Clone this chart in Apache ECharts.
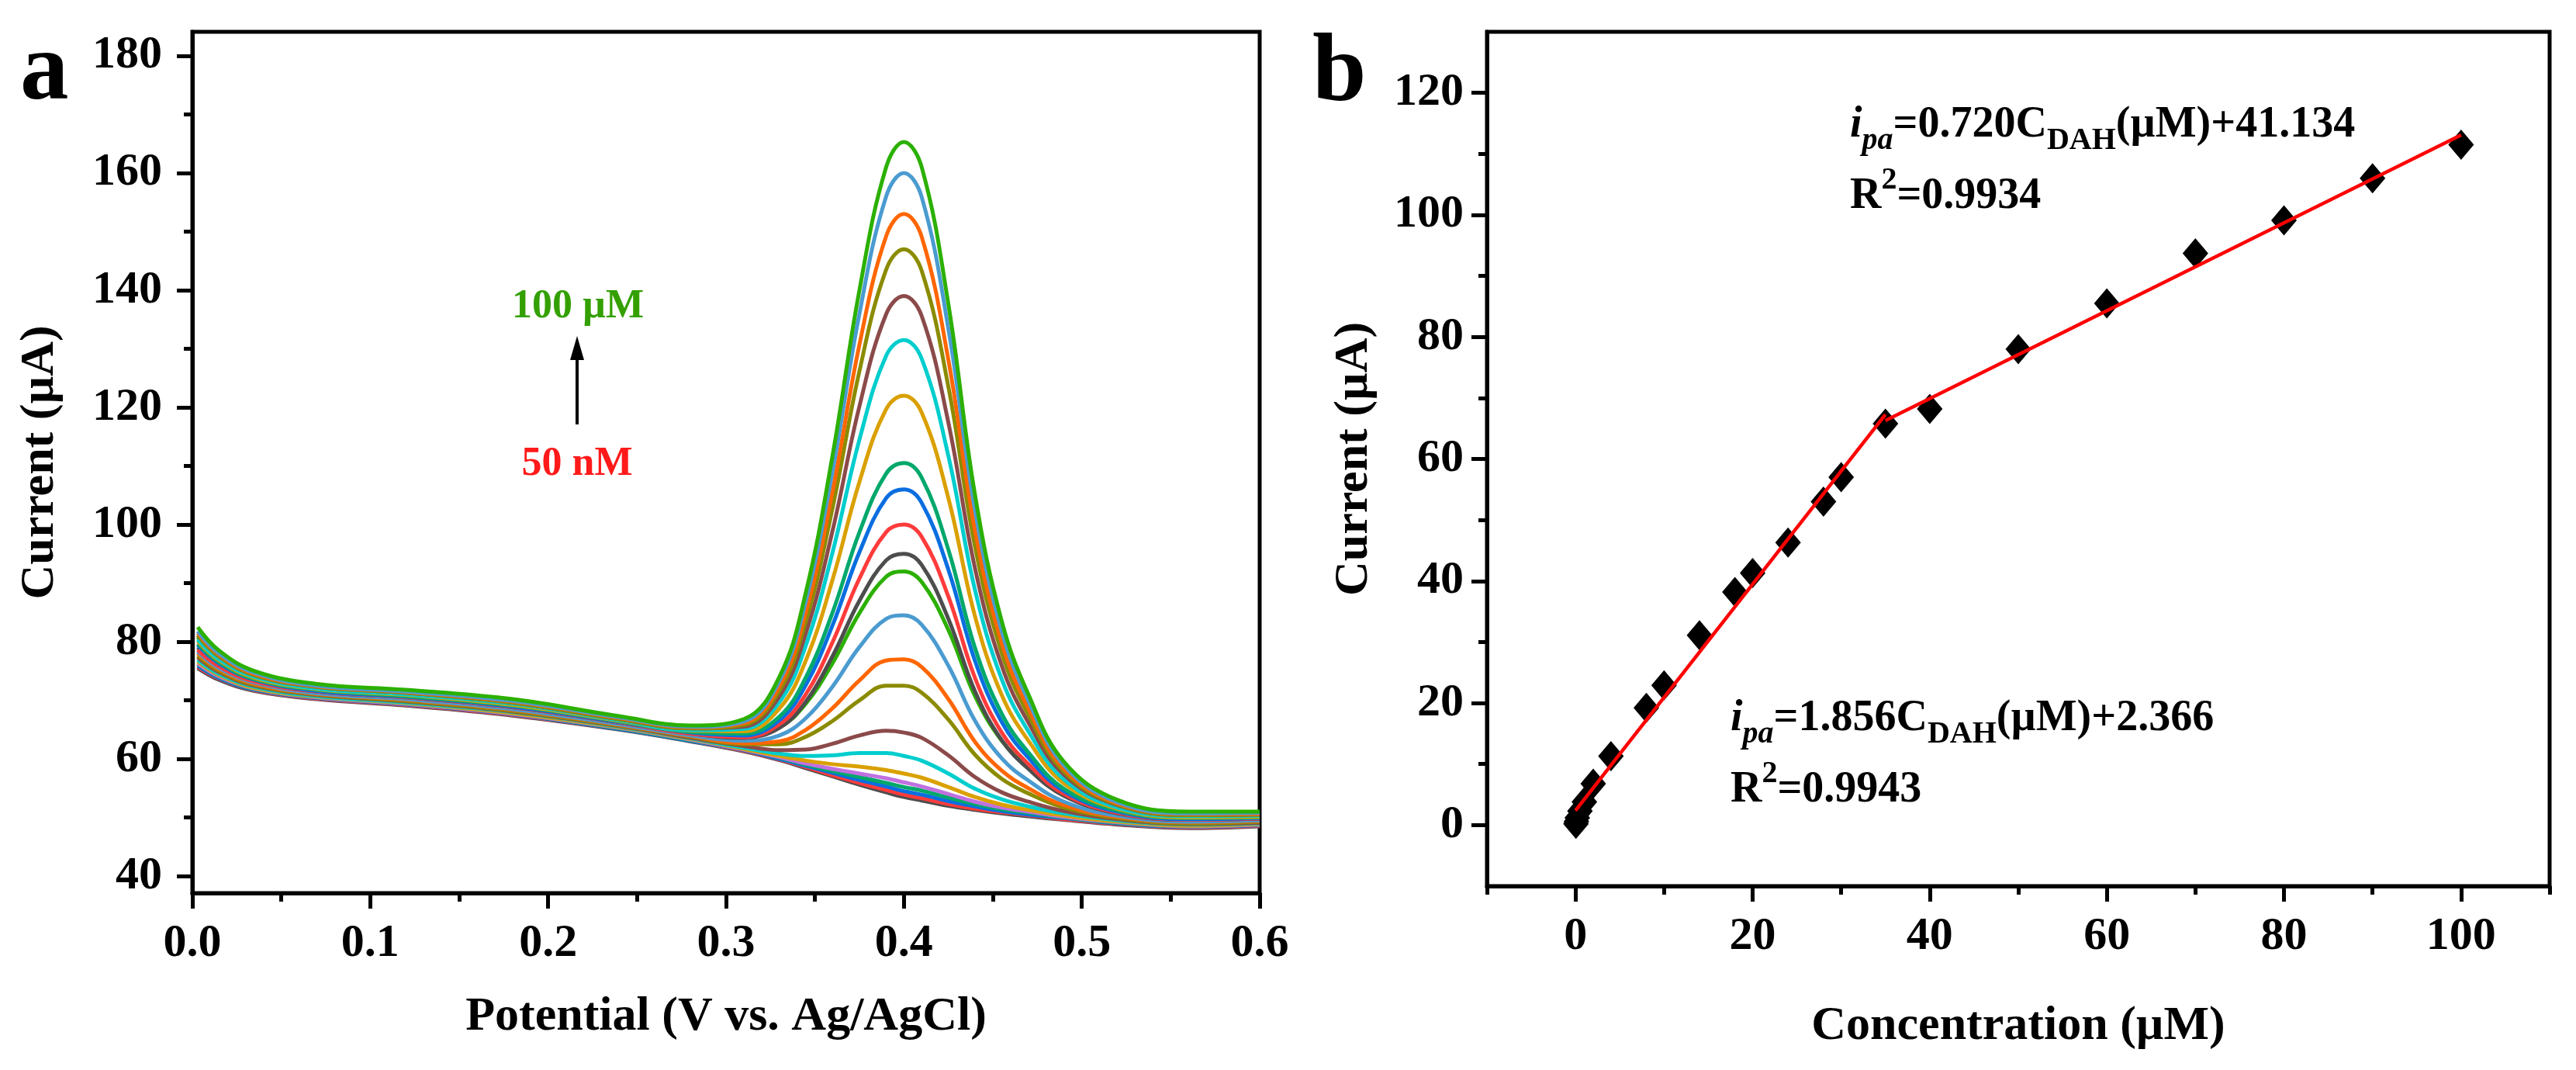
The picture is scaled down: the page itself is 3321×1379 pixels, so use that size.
<!DOCTYPE html>
<html lang="en" style="height: 100%">
<head>
  <meta charset="utf-8">
  <title>DPV of DAH and calibration</title>
</head>
<body style="height: 100%; margin: 0; background: #fff">
  <div id="container" style="width: 3321px; height: 1379px"></div>

  <script type="text/javascript" src="https://cdn.jsdelivr.net/npm/echarts@6.0.0/dist/echarts.min.js"></script>
  <script type="text/javascript">
    // ---- panel a: DPV curves (potential in V, current in uA) ----
    var potential = [0.003, 0.015, 0.035, 0.07, 0.12, 0.18, 0.24, 0.28, 0.31, 0.33, 0.345, 0.36,
      0.375, 0.39, 0.40, 0.41, 0.425, 0.44, 0.455, 0.47, 0.49, 0.52, 0.56, 0.60];

    // one array per concentration, lowest (50 nM) to highest (100 uM)
    var curve01 = [75.5, 73.5, 71.6, 70.2, 69.1, 67.4, 65.0, 63.0, 61.3, 59.8, 58.4, 57.0, 55.6, 54.3, 53.5, 52.9, 52.0, 51.3, 50.7, 50.2, 49.6, 48.8, 48.2, 48.5];
    var curve02 = [75.7, 73.7, 71.7, 70.3, 69.2, 67.5, 65.1, 63.1, 61.4, 59.9, 58.6, 57.2, 55.9, 54.7, 53.9, 53.3, 52.3, 51.5, 50.9, 50.4, 49.7, 48.9, 48.3, 48.6];
    var curve03 = [75.9, 73.8, 71.8, 70.4, 69.3, 67.6, 65.1, 63.1, 61.5, 60.0, 58.8, 57.6, 56.4, 55.3, 54.5, 53.9, 52.8, 51.9, 51.1, 50.5, 49.9, 49.0, 48.4, 48.7];
    var curve04 = [76.2, 74.0, 71.9, 70.5, 69.4, 67.7, 65.2, 63.2, 61.6, 60.2, 59.0, 57.9, 56.9, 55.9, 55.2, 54.6, 53.4, 52.3, 51.4, 50.8, 50.0, 49.1, 48.5, 48.8];
    var curve05 = [76.3, 74.1, 72.0, 70.5, 69.4, 67.7, 65.3, 63.3, 61.6, 60.3, 59.2, 58.3, 57.5, 56.7, 56.0, 55.3, 54.0, 52.7, 51.7, 51.0, 50.1, 49.2, 48.5, 48.8];
    var curve06 = [76.6, 74.3, 72.1, 70.6, 69.5, 67.8, 65.4, 63.4, 61.7, 60.5, 59.7, 59.1, 58.7, 58.1, 57.5, 56.8, 55.2, 53.5, 52.2, 51.3, 50.3, 49.3, 48.6, 48.9];
    var curve07 = [76.9, 74.5, 72.3, 70.7, 69.6, 68.0, 65.5, 63.5, 61.9, 60.9, 60.5, 60.6, 61.0, 61.0, 60.5, 59.7, 57.5, 54.9, 53.1, 51.9, 50.7, 49.5, 48.8, 49.0];
    var curve08 = [77.3, 74.8, 72.5, 70.9, 69.8, 68.1, 65.6, 63.6, 62.2, 61.5, 61.6, 62.6, 64.0, 64.8, 64.5, 63.6, 60.6, 56.9, 54.3, 52.7, 51.1, 49.7, 48.9, 49.1];
    var curve09 = [77.6, 75.0, 72.6, 71.0, 69.9, 68.2, 65.7, 63.8, 62.5, 62.5, 63.8, 66.5, 70.0, 72.5, 72.5, 71.3, 66.7, 60.7, 56.6, 54.1, 51.7, 49.9, 49.0, 49.3];
    var curve10 = [78.0, 75.3, 72.8, 71.1, 70.1, 68.4, 65.8, 63.9, 62.7, 63.0, 65.0, 68.7, 73.4, 76.8, 77.0, 75.7, 70.2, 62.9, 58.0, 55.0, 52.1, 50.1, 49.2, 49.4];
    var curve11 = [78.3, 75.5, 73.0, 71.2, 70.2, 68.5, 65.9, 64.0, 63.1, 64.0, 67.0, 72.4, 79.1, 83.9, 84.5, 82.9, 75.9, 66.5, 60.1, 56.3, 52.7, 50.3, 49.3, 49.5];
    var curve12 = [80.8, 77.3, 74.2, 72.2, 71.1, 69.5, 66.7, 64.8, 64.0, 65.4, 69.5, 76.4, 84.9, 91.1, 92.0, 90.2, 82.0, 70.7, 63.1, 58.6, 54.3, 51.4, 50.3, 50.4];
    var curve13 = [79.0, 76.0, 73.3, 71.5, 70.5, 68.8, 66.2, 64.3, 63.6, 65.3, 69.8, 77.6, 87.0, 93.9, 95.0, 93.1, 83.9, 71.5, 63.2, 58.3, 53.7, 50.7, 49.6, 49.8];
    var curve14 = [78.6, 75.8, 73.2, 71.5, 70.5, 68.8, 66.2, 64.3, 63.7, 65.9, 71.1, 80.0, 90.8, 98.7, 100.0, 97.9, 87.7, 73.8, 64.5, 59.1, 54.0, 50.8, 49.6, 49.8];
    var curve15 = [79.4, 76.3, 73.5, 71.6, 70.6, 68.9, 66.3, 64.5, 64.0, 66.6, 72.7, 82.9, 95.3, 104.5, 106.0, 103.7, 92.3, 76.7, 66.3, 60.2, 54.5, 51.0, 49.7, 49.9];
    var curve16 = [79.7, 76.5, 73.6, 71.8, 70.7, 69.1, 66.4, 64.6, 64.3, 67.2, 74.0, 85.1, 98.7, 108.7, 110.5, 108.0, 95.7, 78.9, 67.7, 61.1, 54.9, 51.2, 49.9, 50.0];
    var curve17 = [80.1, 76.8, 73.8, 71.9, 70.9, 69.2, 66.5, 64.8, 64.7, 68.6, 76.9, 90.7, 107.3, 119.7, 122.0, 119.1, 104.5, 84.3, 70.9, 63.1, 55.8, 51.5, 50.0, 50.1];
    var curve18 = [80.4, 77.0, 74.0, 72.0, 71.0, 69.4, 66.6, 64.9, 65.1, 69.7, 79.5, 95.4, 114.5, 128.8, 131.5, 128.3, 111.7, 88.8, 73.6, 64.7, 56.5, 51.7, 50.2, 50.3];
    var curve19 = [81.1, 77.5, 74.3, 72.3, 71.3, 69.6, 66.8, 65.2, 65.5, 70.7, 81.6, 99.1, 120.2, 135.9, 139.0, 135.6, 117.4, 92.5, 75.9, 66.2, 57.3, 52.1, 50.4, 50.5];
    var curve20 = [81.1, 77.5, 74.3, 72.3, 71.3, 69.6, 66.8, 65.2, 65.8, 71.6, 83.6, 103.0, 126.2, 143.5, 147.0, 143.3, 123.5, 96.2, 78.1, 67.5, 57.8, 52.2, 50.4, 50.5];
    var curve21 = [81.5, 77.8, 74.5, 72.4, 71.4, 69.8, 67.0, 65.4, 66.1, 72.4, 85.2, 105.9, 130.7, 149.2, 153.0, 149.1, 128.1, 99.0, 79.8, 68.6, 58.3, 52.4, 50.6, 50.6];
    var curve22 = [81.8, 78.0, 74.7, 72.5, 71.5, 69.9, 67.1, 65.5, 66.4, 73.3, 87.1, 109.3, 136.0, 156.0, 160.0, 155.9, 133.4, 102.4, 81.8, 69.9, 58.9, 52.6, 50.7, 50.8];
    var curve23 = [82.5, 78.5, 75.0, 72.8, 71.8, 70.2, 67.3, 65.7, 66.8, 74.0, 88.6, 112.0, 140.0, 161.0, 165.3, 161.0, 137.6, 105.0, 83.5, 71.0, 59.5, 53.0, 51.0, 51.0];

    var curves = [curve01, curve02, curve03, curve04, curve05, curve06, curve07, curve08, curve09, curve10, curve11, curve12,
      curve13, curve14, curve15, curve16, curve17, curve18, curve19, curve20, curve21, curve22, curve23];

    var curveColors = ['#4d4d4d', '#ff3b3b', '#0a6ee0', '#00a86b', '#c070e0', '#daa000', '#00cdcd', '#8b4a4a', '#8b8b00', '#ff6600', '#4a9bd0', '#2bb000',
      '#4d4d4d', '#ff3b3b', '#0a6ee0', '#00a86b', '#daa000', '#00cdcd', '#8b4a4a', '#8b8b00', '#ff6600', '#4a9bd0', '#2bb000'];

    var potentialTicks = [0, 0.1, 0.2, 0.3, 0.4, 0.5, 0.6];
    var potentialMinor = [0.05, 0.15, 0.25, 0.35, 0.45, 0.55];
    var currentTicksA = [40, 60, 80, 100, 120, 140, 160, 180];
    var currentMinorA = [50, 70, 90, 110, 130, 150, 170];

    // ---- panel b: calibration (concentration in uM, peak current in uA) ----
    var concentration = [0.05, 0.1, 0.2, 0.5, 1, 2, 4, 8, 10, 14, 18, 20, 24, 28, 30, 35, 40, 50, 60, 70, 80, 90, 100];
    var peakCurrent = [0.2, 0.6, 1.2, 2.3, 3.8, 6.8, 11.3, 19.2, 22.9, 31.1, 38.2, 41.3, 46.3, 53.0, 57.0, 65.8, 68.2, 78.0, 85.5, 93.7, 99.1, 106.0, 111.5];
    var fitLowX = [0, 35];
    var fitLowY = [2.37, 67.3];
    var fitHighX = [35, 100];
    var fitHighY = [66.3, 113.1];

    var concTicks = [0, 20, 40, 60, 80, 100];
    var concMinor = [-10, 10, 30, 50, 70, 90, 110];
    var currentTicksB = [0, 20, 40, 60, 80, 100, 120];
    var currentMinorB = [10, 30, 50, 70, 90, 110];

    var FONT = 'Liberation Serif';

    function majorAxis(grid, pos, min, max, ticks, name, gap, margin, fmt) {
      return {
        type: 'value', gridIndex: grid, position: pos, min: min, max: max,
        name: name, nameLocation: 'middle', nameGap: gap,
        nameTextStyle: { fontFamily: FONT, fontWeight: 'bold', fontSize: 62, color: '#000' },
        axisLine: { show: true, onZero: false, lineStyle: { color: '#000', width: 5 } },
        axisTick: { show: true, inside: false, length: 20, customValues: ticks, lineStyle: { color: '#000', width: 5 } },
        axisLabel: {
          show: true, customValues: ticks, margin: margin, showMinLabel: true, showMaxLabel: true,
          fontFamily: FONT, fontWeight: 'bold', fontSize: 60, color: '#000', formatter: fmt
        },
        splitLine: { show: false }
      };
    }

    function minorAxis(grid, pos, min, max, ticks) {
      return {
        type: 'value', gridIndex: grid, position: pos, min: min, max: max,
        axisLine: { show: false, onZero: false },
        axisTick: { show: true, inside: false, length: 11, customValues: ticks, lineStyle: { color: '#000', width: 5 } },
        axisLabel: { show: false },
        splitLine: { show: false }
      };
    }

    function pairs(xs, ys) {
      return xs.map(function (x, i) { return [x, ys[i]]; });
    }

    var series = curves.map(function (c, k) {
      return {
        type: 'line', name: concentration[k] + ' uM', xAxisIndex: 0, yAxisIndex: 0,
        data: pairs(potential, c), smooth: 0.4, showSymbol: false, symbol: 'none',
        lineStyle: { width: 5, color: curveColors[k] }, itemStyle: { color: curveColors[k] }, z: 2
      };
    });

    series.push({
      type: 'scatter', xAxisIndex: 2, yAxisIndex: 2, data: pairs(concentration, peakCurrent),
      symbol: 'diamond', symbolSize: [33, 39], itemStyle: { color: '#000', opacity: 1 }, z: 2
    });
    series.push({
      type: 'line', xAxisIndex: 2, yAxisIndex: 2, data: pairs(fitLowX, fitLowY), showSymbol: false, symbol: 'none',
      lineStyle: { width: 4.5, color: '#ff0000' }, z: 3
    });
    series.push({
      type: 'line', xAxisIndex: 2, yAxisIndex: 2, data: pairs(fitHighX, fitHighY), showSymbol: false, symbol: 'none',
      lineStyle: { width: 4.5, color: '#ff0000' }, z: 3
    });

    var eqRich = {
      t: { fontFamily: FONT, fontWeight: 'bold', fontSize: 56, fill: '#000' },
      i: { fontFamily: FONT, fontWeight: 'bold', fontStyle: 'italic', fontSize: 56, fill: '#000' },
      isub: { fontFamily: FONT, fontWeight: 'bold', fontStyle: 'italic', fontSize: 40, fill: '#000', padding: [39, 0, 0, 0] },
      sub: { fontFamily: FONT, fontWeight: 'bold', fontSize: 40, fill: '#000', padding: [39, 0, 0, 0] },
      sup: { fontFamily: FONT, fontWeight: 'bold', fontSize: 40, fill: '#000', padding: [0, 0, 43, 0] }
    };

    function eqText(x, y, text) {
      return {
        type: 'text', x: x, y: y, z: 10,
        style: { text: text, rich: eqRich, align: 'left', verticalAlign: 'middle', fontFamily: FONT, fontWeight: 'bold', fontSize: 56, fill: '#000' }
      };
    }

    var dom = document.getElementById('container');
    var myChart = echarts.init(dom, null, { renderer: 'canvas' });

    var option = {
      backgroundColor: '#fff',
      animation: false,
      grid: [
        { left: 248, top: 41, width: 1376, height: 1110, show: true, borderColor: '#000', borderWidth: 5, containLabel: false },
        { left: 1917, top: 41, width: 1370, height: 1101, show: true, borderColor: '#000', borderWidth: 5, containLabel: false }
      ],
      xAxis: [
        majorAxis(0, 'bottom', 0, 0.6, potentialTicks, 'Potential (V vs. Ag/AgCl)', 129, 35, function (v) { return v.toFixed(1); }),
        minorAxis(0, 'bottom', 0, 0.6, potentialMinor),
        majorAxis(1, 'bottom', -10, 110, concTicks, 'Concentration (\u00b5M)', 150, 35),
        minorAxis(1, 'bottom', -10, 110, concMinor)
      ],
      yAxis: [
        majorAxis(0, 'left', 37.1, 184.1, currentTicksA, 'Current (\u00b5A)', 165, 39),
        minorAxis(0, 'left', 37.1, 184.1, currentMinorA),
        majorAxis(1, 'left', -10, 130, currentTicksB, 'Current (\u00b5A)', 140, 30),
        minorAxis(1, 'left', -10, 130, currentMinorB)
      ],
      series: series,
      graphic: {
        elements: [
          { type: 'text', x: 26, y: 95, style: { text: 'a', fontFamily: FONT, fontWeight: 'bold', fontSize: 125, fill: '#000', align: 'left', verticalAlign: 'middle' } },
          { type: 'text', x: 1692, y: 97, style: { text: 'b', fontFamily: FONT, fontWeight: 'bold', fontSize: 125, fill: '#000', align: 'left', verticalAlign: 'middle' } },
          { type: 'text', x: 745, y: 396, style: { text: '100 \u00b5M', fontFamily: FONT, fontWeight: 'bold', fontSize: 52, fill: '#33a000', align: 'center', verticalAlign: 'middle' } },
          { type: 'text', x: 744, y: 599, style: { text: '50 nM', fontFamily: FONT, fontWeight: 'bold', fontSize: 52, fill: '#ff1a1a', align: 'center', verticalAlign: 'middle' } },
          { type: 'line', shape: { x1: 744, y1: 547, x2: 744, y2: 458 }, style: { stroke: '#000', lineWidth: 4 } },
          { type: 'polygon', shape: { points: [[744, 433], [735, 464], [753, 464]] }, style: { fill: '#000' } },
          eqText(2385, 162, '{i|i}{isub|pa}{t|=0.720C}{sub|DAH}{t|(\u00b5M)+41.134}'),
          eqText(2385, 254, '{t|R}{sup|2}{t|=0.9934}'),
          eqText(2231, 927, '{i|i}{isub|pa}{t|=1.856C}{sub|DAH}{t|(\u00b5M)+2.366}'),
          eqText(2231, 1019, '{t|R}{sup|2}{t|=0.9943}')
        ]
      }
    };

    myChart.setOption(option);
    window.addEventListener('resize', myChart.resize);
  </script>
</body>
</html>
